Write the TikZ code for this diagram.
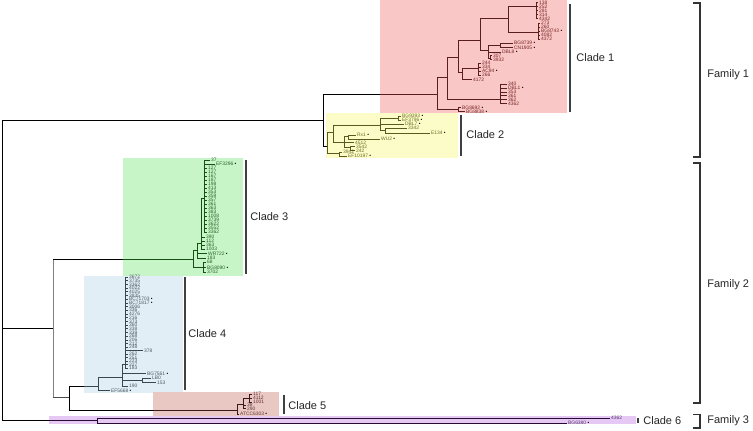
\documentclass[tikz,border=0pt]{standalone}
\usepackage{fontspec}
\setmainfont{Liberation Sans}
\definecolor{cabg}{RGB}{249,199,197}
\definecolor{cbbg}{RGB}{252,252,200}
\definecolor{ccbg}{RGB}{200,245,200}
\definecolor{cdbg}{RGB}{225,238,246}
\definecolor{cebg}{RGB}{233,200,196}
\definecolor{cfbg}{RGB}{230,200,245}
\definecolor{caln}{RGB}{90,30,30}
\definecolor{cbln}{RGB}{90,90,30}
\definecolor{ccln}{RGB}{20,80,20}
\definecolor{cdln}{RGB}{60,70,80}
\definecolor{celn}{RGB}{60,25,25}
\definecolor{cfln}{RGB}{40,10,50}
\definecolor{catx}{RGB}{120,40,40}
\definecolor{cbtx}{RGB}{110,110,40}
\definecolor{cctx}{RGB}{40,100,40}
\definecolor{cdtx}{RGB}{80,90,100}
\definecolor{cetx}{RGB}{100,50,50}
\definecolor{cftx}{RGB}{90,60,110}
\newcount\tipn
\newcommand\dt{\ {\color{black}•}}
\newcommand\tp[4]{\draw (#1,#3) -- (#2,#3);\global\advance\tipn by 1\relax\node[tiplab] (tip\the\tipn) at (#2,#3) {#4};}
\begin{document}
\begin{tikzpicture}[x=1pt,y=-1pt,line width=0.75pt,
  tiplab/.style={anchor=west,inner sep=0pt,xshift=0.8pt,font=\fontsize{4.9}{4.9}\selectfont},
  cladelab/.style={anchor=west,inner sep=0pt,font=\fontsize{11}{11}\selectfont,text=black!85},
  famlab/.style={anchor=west,inner sep=0pt,font=\fontsize{11}{11}\selectfont,text=black!85},
  bar/.style={draw=black!75,line width=1.1pt},
  brk/.style={draw=black!80,line width=1.2pt}]
\useasboundingbox (0,0) rectangle (753,431);
\fill[white] (0,0) rectangle (753,431);
% backgrounds
\fill[cabg] (380,0) rectangle (567,113);
\fill[cbbg] (326,113) rectangle (458,158);
\fill[ccbg] (123,158) rectangle (243,276);
\fill[cdbg] (84,276) rectangle (183,393);
\fill[cebg] (153,392) rectangle (279,416);
\fill[cfbg] (49,416) rectangle (636,424);
% root and backbone
\draw (2,120) -- (2,420);
\draw (2,120) -- (323,120);
\draw (323,94) -- (323,146);
\draw (323,94) -- (380,94);
\draw (323,146) -- (327,146);
\draw (2,328) -- (53,328);
\draw[gray] (53,259) -- (53,397);
\draw (53,259) -- (123,259);
\draw[black!70] (53,397) -- (69,397);
\draw (69,386) -- (69,410);
\draw (69,386) -- (84,386);
\draw (69,410) -- (153,410);
\draw (2,420) -- (49,420);
% clade 1
\begin{scope}[draw=caln,text=catx]
\draw (380,94) -- (437,94);
\draw (437,77) -- (437,109.5);
\draw (437,109.5) -- (458,109.5);
\draw (458,107.5) -- (458,111.5);
\tp{458}{461}{107.5}{BG8692\dt}
\tp{458}{465}{111.5}{BG8838\dt}
\draw (437,77) -- (447,77);
\draw (447,57) -- (447,99);
\draw (447,99) -- (500,99);
\draw (500,84) -- (500,103.5);
\foreach \yy/\lb in {84/340, 88/DBL1\dt, 92/353, 95.5/361, 99.5/362, 103.5/4362} {\tp{500}{507}{\yy}{\lb}}
\draw (447,57) -- (458,57);
\draw (458,40) -- (458,72);
\draw (458,72) -- (462,72);
\draw (462,68) -- (462,79.5);
\draw (462,68) -- (478,68);
\draw (478,63) -- (478,75);
\foreach \yy/\lb in {63/244, 67/334, 71/AC94\dt, 75/266} {\tp{478}{481}{\yy}{\lb}}
\tp{462}{472}{79.5}{4172}
\draw (458,40) -- (480,40);
\draw (480,18) -- (480,50);
\draw (480,18) -- (508,18);
\draw (508,6) -- (508,32);
\draw (508,6) -- (536,6);
\draw (536,2.5) -- (536,18.5);
\foreach \yy/\lb in {2.5/138, 6.5/252, 10.5/281, 14.5/314, 18.5/4342} {\tp{536}{538}{\yy}{\lb}}
\draw (508,32) -- (538,32);
\draw (538,23) -- (538,39);
\foreach \yy/\lb in {23/273, 27/260, 31/BG8743\dt, 35/4082, 39/4372} {\tp{538}{540}{\yy}{\lb}}
\draw (480,50) -- (488,50);
\draw (488,45) -- (488,58);
\draw (488,45) -- (500,45);
\draw (500,43) -- (500,47.5);
\tp{500}{513}{43}{BG8739\dt}
\tp{500}{513}{47.5}{CN1905\dt}
\tp{488}{501}{52}{DBL8\dt}
\draw (488,58) -- (490,58);
\draw (490,55.5) -- (490,59.5);
\tp{490}{492}{55.5}{307}
\tp{490}{492}{59.5}{3932}
\end{scope}
% clade 2
\begin{scope}[draw=cbln,text=cbtx]
\draw (327,132) -- (327,153.5);
\draw (327,153.5) -- (339,153.5);
\draw (339,152) -- (339,156);
\tp{339}{342}{152}{3942}
\tp{339}{347}{156}{EF10197\dt}
\draw (327,132) -- (333,132);
\draw (333,125) -- (333,142);
\draw (333,125) -- (380,125);
\draw (380,118) -- (380,130);
\draw (380,118) -- (398,118);
\draw (398,116) -- (398,120);
\tp{398}{401}{116}{BG9393\dt}
\tp{398}{401}{120}{EF3796\dt}
\tp{380}{404}{124}{DBL7\dt}
\draw (380,130) -- (385,130);
\draw (385,128) -- (385,133);
\tp{385}{407}{128}{3342}
\tp{385}{430}{133}{E134\dt}
\draw (333,142) -- (344,142);
\draw (344,136.5) -- (344,147.5);
\draw (344,136.5) -- (348,136.5);
\draw (348,135) -- (348,139);
\tp{348}{356}{135}{Rx1\dt}
\tp{348}{380}{139}{WU2\dt}
\tp{344}{354}{142.8}{4512}
\draw (344,147.5) -- (350,147.5);
\draw (350,146.8) -- (350,150.6);
\tp{350}{355}{146.8}{3542}
\tp{350}{355}{150.6}{242}
\end{scope}
% clade 3
\begin{scope}[draw=ccln,text=cctx]
\draw (123,259) -- (193,259);
\draw (193,250) -- (193,267.5);
\draw (193,267.5) -- (203,267.5);
\draw (203,262) -- (203,272);
\foreach \yy/\lb in {262/68, 267.5/BG8090\dt, 272/3702} {\tp{203}{206}{\yy}{\lb}}
\draw (193,250) -- (197,250);
\draw (197,243) -- (197,258);
\tp{197}{206}{258}{183}
\tp{197}{207}{253.5}{WR722\dt}
\draw (197,243) -- (201,243);
\draw (201,198) -- (201,249);
\foreach \yy/\lb in {237/390, 241/112, 245/363, 249/1003} {\tp{201}{205}{\yy}{\lb}}
\draw (201,198) -- (204,198);
\draw (204,160) -- (204,233);
\tp{204}{210}{160}{37}
\tp{204}{215}{164}{EF3296\dt}
\foreach \yy/\lb in {168/127, 172/127, 176/167, 180/187, 184/198, 188/413, 192/353, 196/359, 200/357, 204/361, 208/363, 212/383, 216/1008, 220/3739, 224/3622, 228/3552, 232/3362} {\tp{204}{207}{\yy}{\lb}}
\end{scope}
% clade 4
\begin{scope}[draw=cdln,text=cdtx]
\draw (84,386) -- (98,386);
\draw (98,377) -- (98,390.5);
\tp{98}{110}{390.5}{EF5668\dt}
\draw (98,377) -- (122,377);
\draw (122,364) -- (122,386);
\tp{122}{128}{386}{190}
\tp{122}{146}{373.5}{BG7561\dt}
\draw (122,380) -- (142,380);
\draw (142,378) -- (142,382.5);
\tp{142}{151}{378}{LB0}
\tp{142}{156}{382.5}{153}
\draw (122,364) -- (125,364);
\draw (125,277) -- (125,368);
\foreach \yy/\lb in {277/3672, 280.7/3735, 284.4/3362, 288.1/4022, 291.8/4025, 295.5/3835, 299.2/BC71703\dt, 302.9/BC71817\dt, 306.6/3006, 310.3/336, 314/4276, 317.7/216, 321.4/373, 325.1/360, 328.8/338, 332.5/339, 336.2/268, 339.9/206, 343.6/212, 347.3/248} {\tp{125}{128}{\yy}{\lb}}
\tp{125}{143}{350.5}{378}
\foreach \yy/\lb in {354/262, 357.5/251, 361/223, 364.5/227, 368/183} {\tp{125}{128}{\yy}{\lb}}
\end{scope}
% clade 5
\begin{scope}[draw=celn,text=cetx]
\draw (153,410) -- (237,410);
\draw (237,404) -- (237,414);
\tp{237}{239}{414}{ATCC6303\dt}
\draw (237,404) -- (243,404);
\draw (243,398) -- (243,408.5);
\tp{243}{246}{405}{38}
\tp{243}{246}{408.5}{290}
\draw (243,398) -- (249,398);
\draw (249,394) -- (249,402);
\foreach \yy/\lb in {394/117, 398/4112, 402/1001} {\tp{249}{252}{\yy}{\lb}}
\end{scope}
% clade 6
\begin{scope}[draw=cfln,text=cftx]
\draw (49,420) -- (97,420);
\draw (97,418) -- (97,423);
\tp{97}{610}{418}{4362}
\tp{97}{567}{423}{BG6380\dt}
\end{scope}
% clade bars and labels
\draw[bar] (570,4) -- (570,112);
\node[cladelab] (cla) at (576,58) {Clade 1};
\draw[bar] (461,115) -- (461,156);
\node[cladelab] (clb) at (466,135) {Clade 2};
\draw[bar] (246,160) -- (246,274);
\node[cladelab] (clc) at (250,217) {Clade 3};
\draw[bar] (185,277) -- (185,390);
\node[cladelab] (cld) at (188,334) {Clade 4};
\draw[bar] (284,394.5) -- (284,413.5);
\node[cladelab] (cle) at (288,406) {Clade 5};
\draw[bar] (638,418) -- (638,423);
\node[cladelab] (clf) at (643,421) {Clade 6};
% family brackets
\draw[brk] (693,3) -- (700,3) -- (700,157) -- (693,157);
\node[famlab] (fa) at (707,75) {Family 1};
\draw[brk] (693,163) -- (700,163) -- (700,403) -- (693,403);
\node[famlab] (fb) at (707,285) {Family 2};
\draw[brk] (693,414.5) -- (700,414.5) -- (700,428) -- (693,428);
\node[famlab] (fc) at (707,421) {Family 3};
\end{tikzpicture}
\end{document}
